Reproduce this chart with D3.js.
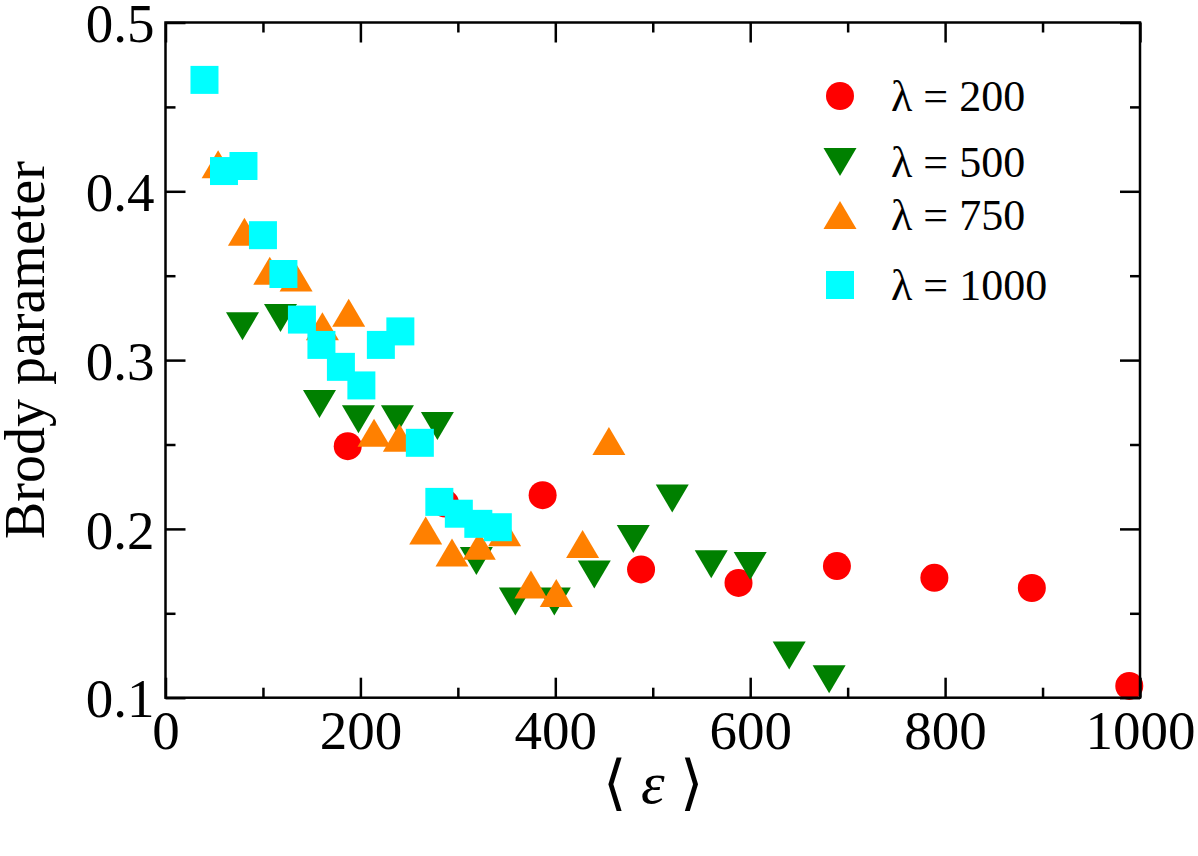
<!DOCTYPE html>
<html>
<head>
<meta charset="utf-8">
<script src="https://cdn.jsdelivr.net/npm/d3@7"></script>
<style>
  body { margin: 0; background: #fff; }
  svg { display: block; }
</style>
</head>
<body>
<svg id="chart" width="1198" height="856"></svg>
<script>
// data
var lam200X = [187, 287, 387, 488, 588, 689, 789, 889, 989];
var lam200Y = [0.249, 0.215, 0.220, 0.176, 0.168, 0.178, 0.171, 0.165, 0.107];

var lam500X = [79, 118, 158, 198, 238, 279, 319, 359, 399, 440, 480, 520, 560, 600, 640, 681];
var lam500Y = [0.320, 0.325, 0.274, 0.265, 0.265, 0.261, 0.181, 0.157, 0.157, 0.173, 0.194, 0.218, 0.179, 0.178, 0.125, 0.111];

var lam750X = [54, 81, 107, 134, 161, 188, 214, 240, 267, 294, 322, 348, 375, 401, 428, 455];
var lam750Y = [0.416, 0.376, 0.353, 0.349, 0.320, 0.328, 0.257, 0.254, 0.199, 0.186, 0.190, 0.198, 0.167, 0.162, 0.191, 0.252];

var lam1000X = [40, 60, 80, 100, 121, 140, 160, 180, 201, 221, 241, 261, 281, 301, 321, 341];
var lam1000Y = [0.466, 0.412, 0.415, 0.374, 0.351, 0.324, 0.309, 0.296, 0.285, 0.309, 0.317, 0.251, 0.216, 0.209, 0.203, 0.201];

var seriesNames = ["\u03bb = 200", "\u03bb = 500", "\u03bb = 750", "\u03bb = 1000"];
var seriesColors = ["#ff0000", "#008000", "#ff8000", "#00ffff"];
var seriesShapes = ["circle", "down", "up", "square"];

var xMajor = [0, 200, 400, 600, 800, 1000];
var xMinor = [100, 300, 500, 700, 900];
var yMajor = [0.1, 0.2, 0.3, 0.4, 0.5];
var yMinor = [0.15, 0.25, 0.35, 0.45];

(function() {
  var FONT = "'Liberation Serif', Tinos, 'Times New Roman', 'Nimbus Roman', serif";
  var series = [
    { x: lam200X, y: lam200Y },
    { x: lam500X, y: lam500Y },
    { x: lam750X, y: lam750Y },
    { x: lam1000X, y: lam1000Y }
  ];

  var svg = d3.select("#chart").attr("font-family", FONT);
  var pLeft = 165.5, pRight = 1140, pTop = 22.5, pBottom = 697.7;

  var x = d3.scaleLinear().domain([0, 1000]).range([pLeft, pRight]);
  var y = d3.scaleLinear().domain([0.1, 0.5]).range([pBottom, pTop]);

  // marker paths
  function markerPath(shape) {
    if (shape === "circle") return d3.symbol().type(d3.symbolCircle).size(Math.PI * 14 * 14)();
    if (shape === "square") return "M-14,-14H14V14H-14Z";
    if (shape === "up") return "M0,-14L16.5,14L-16.5,14Z";
    return "M0,14L16.5,-14L-16.5,-14Z";
  }

  // points, drawn in legend order
  series.forEach(function(s, i) {
    var pts = s.x.map(function(v, j) { return [v, s.y[j]]; });
    svg.append("g").attr("class", "series s" + i)
      .selectAll("path")
      .data(pts)
      .enter().append("path")
      .attr("d", markerPath(seriesShapes[i]))
      .attr("transform", function(d) { return "translate(" + x(d[0]) + "," + y(d[1]) + ")"; })
      .attr("fill", seriesColors[i]);
  });

  // axes, ticks pointing inward on all four sides
  function styleAxis(g) {
    g.attr("font-family", FONT).attr("font-size", 55);
    g.select(".domain").remove();
    g.selectAll("line").attr("stroke", "#000").attr("stroke-width", 2.5);
    g.selectAll("text").attr("fill", "#000");
  }

  svg.append("g").attr("transform", "translate(0," + pBottom + ")")
    .call(d3.axisBottom(x).tickValues(xMajor).tickSize(-20).tickPadding(12).tickFormat(d3.format("d")))
    .call(styleAxis);
  svg.append("g").attr("transform", "translate(0," + pBottom + ")")
    .call(d3.axisBottom(x).tickValues(xMinor).tickSize(-10).tickFormat(""))
    .call(styleAxis);
  svg.append("g").attr("transform", "translate(0," + pTop + ")")
    .call(d3.axisTop(x).tickValues(xMajor).tickSize(-20).tickFormat(""))
    .call(styleAxis);
  svg.append("g").attr("transform", "translate(0," + pTop + ")")
    .call(d3.axisTop(x).tickValues(xMinor).tickSize(-10).tickFormat(""))
    .call(styleAxis);

  var yAxisG = svg.append("g").attr("transform", "translate(" + pLeft + ",0)")
    .call(d3.axisLeft(y).tickValues(yMajor).tickSize(-20).tickPadding(11).tickFormat(d3.format(".1f")))
    .call(styleAxis);
  yAxisG.selectAll("text").attr("dy", "0.35em");
  svg.append("g").attr("transform", "translate(" + pLeft + ",0)")
    .call(d3.axisLeft(y).tickValues(yMinor).tickSize(-10).tickFormat(""))
    .call(styleAxis);
  svg.append("g").attr("transform", "translate(" + pRight + ",0)")
    .call(d3.axisRight(y).tickValues(yMajor).tickSize(-20).tickFormat(""))
    .call(styleAxis);
  svg.append("g").attr("transform", "translate(" + pRight + ",0)")
    .call(d3.axisRight(y).tickValues(yMinor).tickSize(-10).tickFormat(""))
    .call(styleAxis);

  // frame
  svg.append("rect")
    .attr("x", pLeft).attr("y", pTop)
    .attr("width", pRight - pLeft).attr("height", pBottom - pTop)
    .attr("fill", "none").attr("stroke", "#000").attr("stroke-width", 2.5);

  // axis titles
  svg.append("text")
    .attr("transform", "translate(44," + ((pTop + pBottom) / 2 - 10) + ") rotate(-90)")
    .attr("text-anchor", "middle")
    .attr("font-size", 56)
    .text("Brody parameter");

  var xt = svg.append("text")
    .attr("x", (pLeft + pRight) / 2).attr("y", 803)
    .attr("text-anchor", "middle")
    .attr("font-size", 60);
  xt.append("tspan").text("\u27e8 ");
  xt.append("tspan").attr("font-style", "italic").text("\u03b5");
  xt.append("tspan").text(" \u27e9");

  // legend
  var legendY = [96, 162, 215, 285];
  var legend = svg.append("g").attr("class", "legend");
  seriesNames.forEach(function(name, i) {
    legend.append("path")
      .attr("d", markerPath(seriesShapes[i]))
      .attr("transform", "translate(840," + legendY[i] + ")")
      .attr("fill", seriesColors[i]);
    legend.append("text")
      .attr("x", 891).attr("y", legendY[i] + 15)
      .attr("font-size", 44)
      .text(name);
  });
})();
</script>
</body>
</html>
